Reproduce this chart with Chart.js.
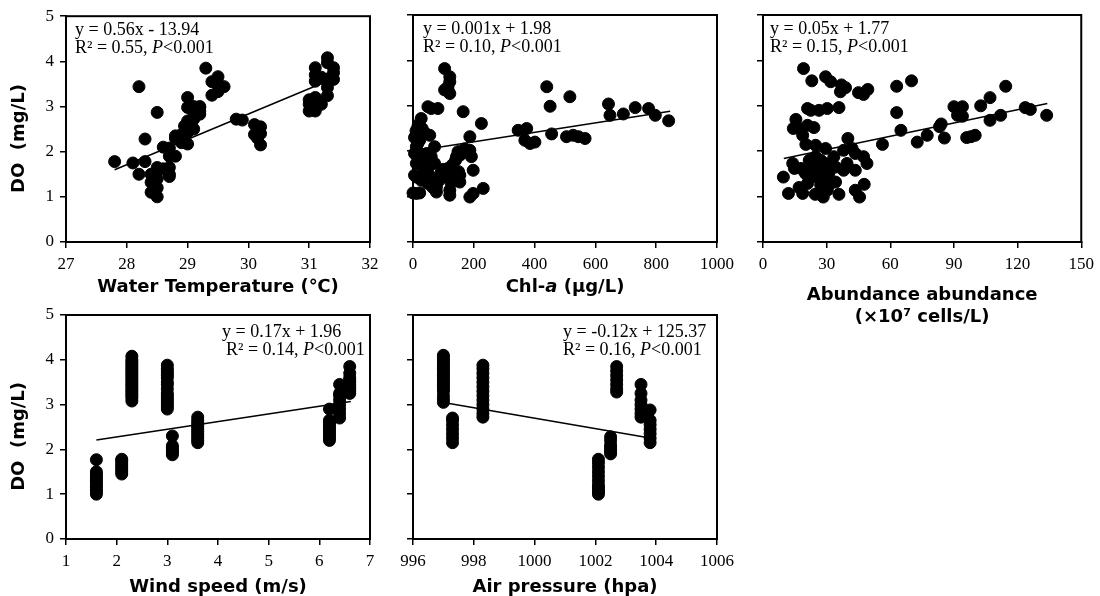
<!DOCTYPE html>
<html>
<head>
<meta charset="utf-8">
<script src="https://cdn.jsdelivr.net/npm/chart.js@4.4.0/dist/chart.umd.min.js"></script>
<style>
  body { margin: 0; background: #fff; width: 1100px; height: 596px; position: relative; overflow: hidden; }
  .panel { position: absolute; }
</style>
</head>
<body>
<div class="panel" style="left:0;top:0"><canvas id="c1" width="400" height="330"></canvas></div>
<div class="panel" style="left:380px;top:0"><canvas id="c2" width="380" height="330"></canvas></div>
<div class="panel" style="left:720px;top:0"><canvas id="c3" width="380" height="330"></canvas></div>
<div class="panel" style="left:0;top:296px"><canvas id="c4" width="400" height="304"></canvas></div>
<div class="panel" style="left:380px;top:296px"><canvas id="c5" width="380" height="304"></canvas></div>
<script>
// ---- data ----
var tempX = [27.8,28.1,28.3,28.2,28.2,28.3,28.5, 28.4,28.4,28.4,28.5,28.5,28.5,28.5,28.45,
  28.6,28.7,28.7,28.7, 28.6,28.7,28.7,28.8, 28.8,28.8,28.9,28.9,28.9,
  29.0,29.0,28.95,29.0,29.0,29.0, 29.1,29.1,29.1,29.1, 29.2,29.2,29.2,29.2,
  29.3,29.4,29.4,29.5,29.5,29.5,29.6,29.5, 29.8,29.9,
  30.1,30.1,30.15,30.2,30.2,30.2,30.15,
  31.0,31.0,31.0,31.05,31.1,31.1,31.1,31.1,31.1,31.15,31.2,31.2,
  31.3,31.3,31.3,31.3,31.35,31.4,31.4,31.4,31.3];
var tempDO = [1.78,1.75,1.78,3.44,1.5,2.28,2.87, 1.5,1.32,1.1,1.2,1.0,1.65,1.4,1.25,
  1.62,1.5,1.45,1.65, 2.1,1.9,2.08,1.9, 2.3,2.35,2.3,2.38,2.2,
  2.17,2.43,2.57,2.68,3.2,2.98, 2.87,2.5,3.0,2.72, 2.98,2.83,3.0,2.9,
  3.85,3.55,3.25,3.66,3.33,3.5,3.44,3.48, 2.72,2.7,
  2.6,2.38,2.3,2.55,2.15,2.4,2.45,
  2.9,3.05,3.15,2.97,2.9,3.86,3.7,3.56,3.2,3.1,3.65,3.05,
  4.08,3.97,3.42,3.24,3.64,3.86,3.75,3.6,3.53];
var tempFitX = [27.8, 31.4];
var tempFitY = [1.6, 3.62];

var chlX = [104,121,121,115,104,121,115, 27,49,60,82,165,225, 16,33,55,22,11,16,5,11,
  187,187,176,192,154,143,148, 71,60,71,49,38,5,11,27,49,77,77,
  115,121,143,154,137,154,121,121, 198,187,198,231, 0,22,11,
  346,374,368,385,401, 440,451,456, 516,505,527,544,566,
  643,648,692,731,775,797,841,
  5,10,20,30,40,15,25,45,60,35,90,100,110,130,140,160,170,150,125,85,65,55];
var chlDO = [3.82,3.64,3.53,3.35,3.35,3.27,3.42, 2.72,2.98,2.94,2.94,2.87,2.61,
  2.54,2.39,2.35,2.24,2.1,2.17,1.95,1.73, 2.32,2.02,1.99,1.88,1.91,1.88,1.99,
  2.1,1.88,1.73,1.62,1.58,1.47,1.43,1.36,1.29,1.21,1.1,
  1.62,1.51,1.51,1.47,1.36,1.32,1.14,1.03, 1.58,0.99,1.07,1.18, 1.08,1.08,1.07,
  2.46,2.5,2.24,2.17,2.2, 3.42,2.99,2.38, 3.2,2.32,2.35,2.32,2.28,
  3.04,2.79,2.82,2.96,2.94,2.79,2.67,
  2.3,2.45,2.6,2.5,2.4,2.0,1.85,1.95,1.8,1.65,1.5,1.6,1.45,1.7,1.8,1.95,2.05,1.55,1.3,1.35,1.2,1.45];
var chlFitX = [0, 846];
var chlFitY = [2.0, 2.88];

var algX = [19.1,23,29.5,31.9,37,38.9,36.5,45,47.4,49.4,
  63,70,63,65,56.3,72.7,77.4,85.5,83.2,84,
  90,94,91.7,94,96,98,100,
  102.6,107,107,112,114.4,123.6,126,133.7,
  9.6,12,17,18.7,24.6,28.4,30.3,35.8,43.5,45.5,47.7,
  15.5,14.3,17,18.7,20.2,21,24,24.8,21,22.5,26.4,30.3,35.8,
  29.5,40,38,42,43.5,47.4,49,
  14,14.8,17.9,20,23.4,26.4,24.8,28,31,33.4,34.2,38,39.6,43.5,24.8,21,27.2,31,29.5,34.2,27.2,21.8];
var algDO = [3.82,3.55,3.64,3.53,3.46,3.4,3.31,3.29,3.25,3.36,
  3.43,3.55,2.85,2.46,2.15,2.2,2.35,2.29,2.54,2.6,
  2.98,2.98,2.79,2.77,2.3,2.32,2.35,
  3.0,3.18,2.68,2.79,3.43,2.96,2.92,2.79,
  1.43,1.07,1.2,1.07,1.05,0.99,1.14,1.05,1.14,0.99,1.27,
  2.7,2.5,2.5,2.35,2.15,2.57,2.52,2.13,2.94,2.9,2.9,2.94,2.96,
  2.06,2.28,2.02,2.06,1.95,1.88,1.73,
  1.73,1.62,1.62,1.51,1.65,1.58,1.43,1.43,1.51,1.88,1.32,1.58,1.73,1.58,1.88,1.29,1.25,1.25,1.73,1.65,1.8,1.8];
var algFitX = [9.8, 134];
var algFitY = [1.84, 3.05];

var windSpeed = [1.6, 2.1, 2.3, 3.0, 3.1, 3.6, 6.2, 6.4, 6.6];
var windDO = [
  [1.0,1.05,1.1,1.15,1.2,1.25,1.3,1.35,1.4,1.45,1.5,1.77],
  [1.45,1.5,1.55,1.6,1.65,1.7,1.75,1.78],
  [3.08,3.15,3.2,3.25,3.3,3.35,3.4,3.45,3.5,3.55,3.6,3.65,3.7,3.75,3.8,3.85,3.9,3.95,4.0,4.08],
  [2.9,2.95,3.0,3.05,3.1,3.15,3.2,3.25,3.35,3.45,3.5,3.6,3.65,3.7,3.75,3.8,3.88],
  [1.88,1.92,1.96,2.0,2.04,2.08,2.3],
  [2.15,2.2,2.25,2.3,2.35,2.4,2.45,2.5,2.55,2.6,2.65,2.72],
  [2.2,2.25,2.3,2.35,2.4,2.45,2.5,2.55,2.6,2.65,2.9],
  [2.7,2.8,2.9,3.0,3.1,3.2,3.25,3.45],
  [3.25,3.3,3.35,3.4,3.45,3.5,3.55,3.6,3.7,3.85]
];
var windFitX = [1.6, 6.62];
var windFitY = [2.21, 3.07];

var pressure = [997.0, 997.3, 998.3, 1002.1, 1002.5, 1002.7, 1003.5, 1003.8];
var pressureDO = [
  [3.05,3.12,3.2,3.3,3.35,3.4,3.45,3.5,3.55,3.6,3.65,3.7,3.75,3.8,3.85,3.9,3.95,4.0,4.05,4.1],
  [2.15,2.25,2.35,2.45,2.55,2.65,2.7],
  [2.72,2.8,2.9,3.0,3.1,3.2,3.3,3.4,3.5,3.6,3.7,3.8,3.88],
  [1.0,1.05,1.1,1.15,1.2,1.3,1.4,1.5,1.6,1.7,1.78],
  [1.9,1.95,2.0,2.05,2.1,2.2,2.28],
  [3.28,3.35,3.45,3.55,3.65,3.75,3.85],
  [2.72,2.8,2.9,3.0,3.1,3.25,3.45],
  [2.15,2.25,2.35,2.45,2.55,2.65,2.88]
];
var pressureFitX = [996.95, 1003.75];
var pressureFitY = [3.05, 2.26];

var doTicks = [0, 1, 2, 3, 4, 5];

// ---- helpers ----
function pairs(xs, ys) { return xs.map(function (x, i) { return { x: x, y: ys[i] }; }); }
function columns(xs, groups) {
  var out = [];
  xs.forEach(function (x, i) { groups[i].forEach(function (y) { out.push({ x: x, y: y }); }); });
  return out;
}

var serif = 'Liberation Serif, Times New Roman, serif';
var sans = 'DejaVu Sans, Verdana, sans-serif';

// draws plot frame and the mixed-style text (equations, Chl-a title)
var framePlugin = {
  id: 'frame',
  afterDraw: function (chart, args, opts) {
    var ctx = chart.ctx, a = chart.chartArea;
    ctx.save();
    ctx.strokeStyle = '#000';
    ctx.lineWidth = 2;
    ctx.strokeRect(a.left, a.top, a.right - a.left, a.bottom - a.top);
    ctx.fillStyle = '#000';
    ctx.textBaseline = 'middle';
    ctx.textAlign = 'left';
    (opts.texts || []).forEach(function (t) {
      var x = a.left + t.x, y = a.top + t.y;
      if (t.center) {
        var w = 0;
        t.runs.forEach(function (r) { ctx.font = r[1]; w += ctx.measureText(r[0]).width; });
        x = (a.left + a.right) / 2 - w / 2;
      }
      t.runs.forEach(function (r) {
        ctx.font = r[1];
        ctx.fillText(r[0], x, y);
        x += ctx.measureText(r[0]).width;
      });
    });
    ctx.restore();
  }
};

var eqFont = '18px ' + serif;
var eqItalic = 'italic 18px ' + serif;
function eqLines(dx1, dx2, dy, eq, r2) {
  return [
    { x: dx1, y: dy, runs: [[eq, eqFont]] },
    { x: dx2, y: dy + 18, runs: [['R\u00b2 = ' + r2 + ', ', eqFont], ['P', eqItalic], ['<0.001', eqFont]] }
  ];
}

function makePanel(id, o) {
  new Chart(document.getElementById(id), {
    type: 'scatter',
    data: {
      datasets: [
        {
          data: o.points,
          backgroundColor: '#000',
          borderColor: '#000',
          borderWidth: 1,
          pointRadius: 6,
          pointHoverRadius: 6,
          clip: false
        },
        {
          type: 'line',
          data: pairs(o.fitX, o.fitY),
          borderColor: '#000',
          borderWidth: 1.5,
          pointRadius: 0,
          fill: false
        }
      ]
    },
    options: {
      responsive: false,
      animation: false,
      layout: { padding: { top: o.padTop, right: o.padRight, left: 0, bottom: 0 } },
      plugins: {
        legend: { display: false },
        tooltip: { enabled: false },
        frame: { texts: o.texts }
      },
      scales: {
        x: {
          type: 'linear',
          min: o.xMin, max: o.xMax,
          afterFit: function (s) { s.height = o.xHeight; },
          afterBuildTicks: function (s) { s.ticks = o.xTicks.map(function (v) { return { value: v }; }); },
          ticks: {
            font: { family: serif, size: 17 }, color: '#000', padding: 6, maxRotation: 0, autoSkip: false,
            callback: function (v) { return String(v); }
          },
          grid: { drawOnChartArea: false, drawTicks: true, tickLength: 6, color: '#000', lineWidth: 1.5 },
          border: { display: true, color: '#000', width: 2 },
          title: {
            display: !!o.xTitle,
            text: o.xTitle,
            color: '#000',
            font: { family: sans, size: 18, weight: 'bold', lineHeight: '22px' },
            padding: { top: 0, bottom: o.xTitlePad }
          }
        },
        y: {
          min: 0, max: 5,
          afterFit: function (s) { s.width = o.yWidth; },
          afterBuildTicks: function (s) { s.ticks = doTicks.map(function (v) { return { value: v }; }); },
          ticks: { display: o.yLabels, font: { family: serif, size: 17 }, color: '#000', padding: 6 },
          grid: { drawOnChartArea: false, drawTicks: true, tickLength: 6, color: '#000', lineWidth: 1.5 },
          border: { display: true, color: '#000', width: 2 },
          title: {
            display: o.yLabels,
            text: 'DO  (mg/L)   ',
            color: '#000',
            font: { family: sans, size: 18, weight: 'bold' },
            padding: { top: 9, bottom: 0 }
          }
        }
      }
    },
    plugins: [framePlugin]
  });
}

var bold18 = 'bold 18px ' + sans;
var boldItalic18 = 'italic bold 18px ' + sans;

makePanel('c1', {
  points: pairs(tempX, tempDO), fitX: tempFitX, fitY: tempFitY,
  xMin: 27, xMax: 32, xTicks: [27, 28, 29, 30, 31, 32],
  xTitle: 'Water Temperature (\u2103)', xTitlePad: 32, xHeight: 88,
  yWidth: 66, yLabels: true, padTop: 15, padRight: 30,
  texts: eqLines(9, 9, 14, 'y = 0.56x - 13.94', '0.55')
});

makePanel('c2', {
  points: pairs(chlX, chlDO), fitX: chlFitX, fitY: chlFitY,
  xMin: 0, xMax: 1000, xTicks: [0, 200, 400, 600, 800, 1000],
  xTitle: '', xTitlePad: 0, xHeight: 88,
  yWidth: 33, yLabels: false, padTop: 15, padRight: 43,
  texts: eqLines(10, 10, 14, 'y = 0.001x + 1.98', '0.10').concat([
    { x: 0, y: 272, center: true, runs: [['Chl-', bold18], ['a', boldItalic18], [' (\u03bcg/L)', bold18]] }
  ])
});

makePanel('c3', {
  points: pairs(algX, algDO), fitX: algFitX, fitY: algFitY,
  xMin: 0, xMax: 150, xTicks: [0, 30, 60, 90, 120, 150],
  xTitle: ['Abundance abundance', '(\u00d710\u2077 cells/L)'], xTitlePad: 2, xHeight: 88,
  yWidth: 43, yLabels: false, padTop: 15, padRight: 16,
  texts: eqLines(7, 7, 14, 'y = 0.05x + 1.77', '0.15')
});

makePanel('c4', {
  points: columns(windSpeed, windDO), fitX: windFitX, fitY: windFitY,
  xMin: 1, xMax: 7, xTicks: [1, 2, 3, 4, 5, 6, 7],
  xTitle: 'Wind speed (m/s)', xTitlePad: 2, xHeight: 61,
  yWidth: 66, yLabels: true, padTop: 19, padRight: 30,
  texts: eqLines(156, 160, 17, 'y = 0.17x + 1.96', '0.14')
});

makePanel('c5', {
  points: columns(pressure, pressureDO), fitX: pressureFitX, fitY: pressureFitY,
  xMin: 996, xMax: 1006, xTicks: [996, 998, 1000, 1002, 1004, 1006],
  xTitle: 'Air pressure (hpa)', xTitlePad: 2, xHeight: 61,
  yWidth: 33, yLabels: false, padTop: 19, padRight: 43,
  texts: eqLines(150, 150, 17, 'y = -0.12x + 125.37', '0.16')
});
</script>
</body>
</html>
